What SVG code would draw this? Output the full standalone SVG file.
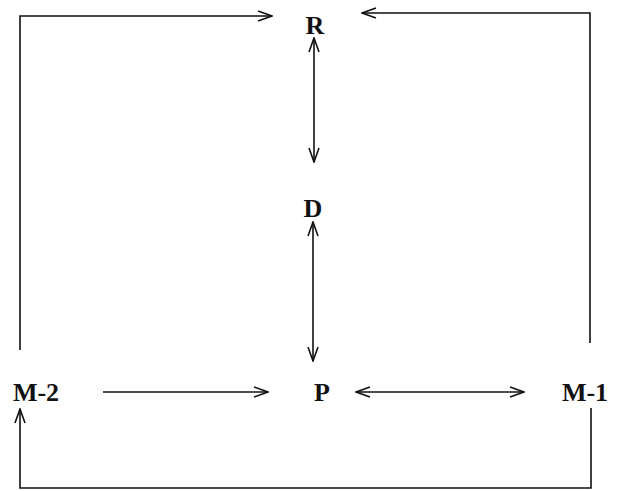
<svg xmlns="http://www.w3.org/2000/svg" width="631" height="491" viewBox="0 0 631 491">
  <style>
    .lbl { font-family: "Liberation Serif", "Times New Roman", serif; font-size: 26px; font-weight: bold; fill: #111; text-anchor: middle; }
    .edge { stroke: #111; stroke-width: 1.6; fill: none; }
  </style>
  <defs>
    <marker id="head" viewBox="0 0 16 12" refX="15" refY="6" markerWidth="16" markerHeight="12" markerUnits="userSpaceOnUse" orient="auto-start-reverse">
      <polyline points="1,1 15,6 1,11" fill="none" stroke="#111" stroke-width="1.6"/>
    </marker>
  </defs>
  <rect width="631" height="491" fill="#fff"/>

  <g id="connectors">
    <!-- M-2 up and over to R -->
    <polyline class="edge" points="20,350 20,16 272,16" marker-end="url(#head)"/>
    <!-- M-1 up and over to R -->
    <polyline class="edge" points="590,343 590,13 362,13" marker-end="url(#head)"/>
    <!-- R <-> D -->
    <line class="edge" x1="314" y1="38" x2="314" y2="162" marker-start="url(#head)" marker-end="url(#head)"/>
    <!-- D <-> P -->
    <line class="edge" x1="313" y1="222" x2="313" y2="361" marker-start="url(#head)" marker-end="url(#head)"/>
    <!-- M-2 -> P -->
    <line class="edge" x1="103" y1="392" x2="268" y2="392" marker-end="url(#head)"/>
    <!-- P <-> M-1 -->
    <line class="edge" x1="356" y1="392" x2="524" y2="392" marker-start="url(#head)" marker-end="url(#head)"/>
    <!-- M-1 down, across the bottom, up to M-2 -->
    <polyline class="edge" points="591,408 591,488 20,488 20,409" marker-end="url(#head)"/>
  </g>

  <g id="node-R"><text class="lbl" x="315" y="34">R</text></g>
  <g id="node-D"><text class="lbl" x="313" y="217">D</text></g>
  <g id="node-P"><text class="lbl" x="322" y="401">P</text></g>
  <g id="node-M2"><text class="lbl" x="36" y="401">M-2</text></g>
  <g id="node-M1"><text class="lbl" x="585" y="401">M-1</text></g>
</svg>
